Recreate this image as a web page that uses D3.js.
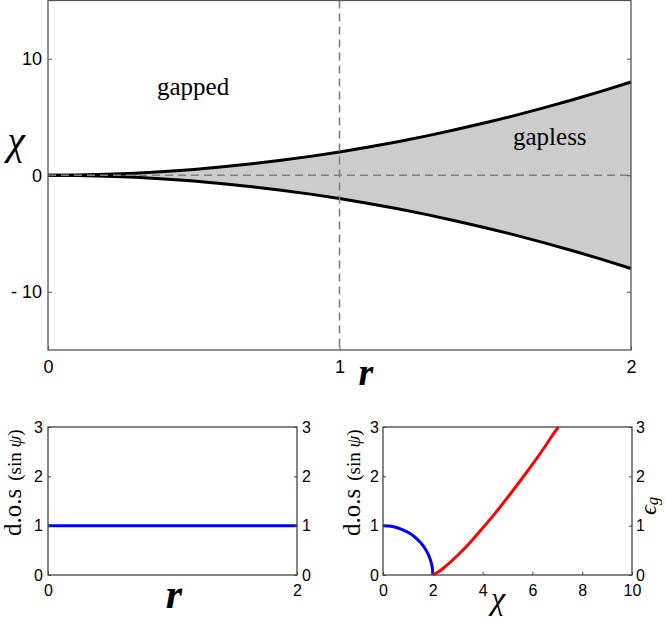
<!DOCTYPE html>
<html>
<head>
<meta charset="utf-8">
<script src="https://cdn.jsdelivr.net/npm/d3@7"></script>
<style>
  html, body { margin: 0; padding: 0; background: #fff; }
  svg { display: block; }
  .tick text { font-family: "Liberation Sans", Arial, sans-serif; fill: #000; }
</style>
</head>
<body>
<svg id="chart" width="665" height="618"></svg>
<script>
// ---------- data ----------
// top panel: phase boundary chi = ±f(r)
const rValues   = [0, 0.1, 0.2, 0.3, 0.4, 0.5, 0.6, 0.7, 0.8, 0.9, 1.0, 1.1, 1.2, 1.3, 1.4, 1.5, 1.6, 1.7, 1.8, 1.9, 2.0];
const chiUpper  = [0, 0.02, 0.08, 0.18, 0.32, 0.5, 0.72, 0.98, 1.28, 1.62, 2.0, 2.42, 2.88, 3.38, 3.92, 4.5, 5.12, 5.78, 6.48, 7.22, 8.0];
const chiLower  = [0, -0.02, -0.08, -0.18, -0.32, -0.5, -0.72, -0.98, -1.28, -1.62, -2.0, -2.42, -2.88, -3.38, -3.92, -4.5, -5.12, -5.78, -6.48, -7.22, -8.0];
const topXTicks = [0, 1, 2];
const topYTicks = [-10, 0, 10];
const topYTickLabels = ["- 10", "0", "10"];
const dashedR = 1;
const dashedChi = 0;
const regionLabels = ["gapped", "gapless"];

// bottom-left panel: d.o.s vs r
const dosR      = [0, 2];
const dosRVals  = [1, 1];
const blXTicks  = [0, 2];
const bYTicks   = [0, 1, 2, 3];

// bottom-right panel: d.o.s (blue) and gap (red) vs chi
const dosChi      = [0, 0.25, 0.5, 0.75, 1.0, 1.25, 1.5, 1.75, 1.9, 1.95, 1.99, 2.0];
const dosChiVals  = [1, 0.992, 0.968, 0.927, 0.866, 0.781, 0.661, 0.484, 0.312, 0.222, 0.1, 0];
const gapChi      = [2, 2.25, 2.5, 3, 3.5, 4, 4.5, 5, 5.5, 6, 6.5, 7, 7.05];
const gapVals     = [0, 0.07, 0.17, 0.4, 0.66, 0.95, 1.25, 1.57, 1.9, 2.24, 2.6, 2.97, 3.0];
const brXTicks    = [0, 2, 4, 6, 8, 10];

// ---------- drawing ----------
const svg = d3.select("#chart");
const frameColor = "#555";
const serif = "'Liberation Serif', 'Times New Roman', serif";

function frame(g, x0, x1, y0, y1, color) {
  g.append("rect").attr("x", x0).attr("y", y0).attr("width", x1 - x0).attr("height", y1 - y0)
    .attr("fill", "none").attr("stroke", color).attr("stroke-width", 1.3);
}
function styleAxis(sel, fs, color) {
  sel.select(".domain").remove();
  sel.selectAll(".tick line").attr("stroke", color).attr("stroke-width", 1);
  sel.selectAll(".tick text").attr("font-size", fs);
}

// ===== top panel =====
const tx = d3.scaleLinear().domain([0, 2]).range([48, 631]);
const ty = d3.scaleLinear().domain([-15, 15]).range([350, 0.5]);
const topG = svg.append("g");

const areaData = rValues.map((r, i) => ({ r, hi: chiUpper[i], lo: chiLower[i] }));
topG.append("path").datum(areaData)
  .attr("d", d3.area().x(d => tx(d.r)).y0(d => ty(d.lo)).y1(d => ty(d.hi)).curve(d3.curveMonotoneX))
  .attr("fill", "#cccccc");

const lineTop = d3.line().x(d => tx(d[0])).y(d => ty(d[1])).curve(d3.curveMonotoneX);
topG.append("path").datum(rValues.map((r, i) => [r, chiUpper[i]]))
  .attr("d", lineTop).attr("fill", "none").attr("stroke", "#000").attr("stroke-width", 3);
topG.append("path").datum(rValues.map((r, i) => [r, chiLower[i]]))
  .attr("d", lineTop).attr("fill", "none").attr("stroke", "#000").attr("stroke-width", 3);

// dashed reference lines
topG.append("line").attr("x1", tx(0)).attr("x2", tx(2)).attr("y1", ty(dashedChi)).attr("y2", ty(dashedChi))
  .attr("stroke", "#808080").attr("stroke-width", 1.6).attr("stroke-dasharray", "8,5");
topG.append("line").attr("x1", tx(dashedR)).attr("x2", tx(dashedR)).attr("y1", ty(15)).attr("y2", ty(-15))
  .attr("stroke", "#808080").attr("stroke-width", 1.6).attr("stroke-dasharray", "8,5");

frame(topG, 48, 631, 0.5, 350, frameColor);

const topYAxis = topG.append("g").attr("transform", "translate(48,0)")
  .call(d3.axisLeft(ty).tickValues(topYTicks).tickSize(-4).tickPadding(6)
    .tickFormat((d, i) => topYTickLabels[i]));
styleAxis(topYAxis, 18, frameColor);
const topYAxisR = topG.append("g").attr("transform", "translate(631,0)")
  .call(d3.axisRight(ty).tickValues(topYTicks).tickSize(-4).tickFormat(""));
styleAxis(topYAxisR, 18, frameColor);
const topXAxis = topG.append("g").attr("transform", "translate(0,350)")
  .call(d3.axisBottom(tx).tickValues(topXTicks).tickSize(-4).tickPadding(10).tickFormat(d3.format("d")));
styleAxis(topXAxis, 18, frameColor);

topG.append("text").attr("x", 157).attr("y", 95).attr("font-family", serif).attr("font-size", 25)
  .text(regionLabels[0]);
topG.append("text").attr("x", 513).attr("y", 145).attr("font-family", serif).attr("font-size", 25)
  .text(regionLabels[1]);

// axis titles
topG.append("text").attr("x", 366).attr("y", 385).attr("text-anchor", "middle")
  .attr("font-family", serif).attr("font-style", "italic").attr("font-weight", "bold").attr("font-size", 38)
  .text("r");
topG.append("text").attr("x", 16).attr("y", 154).attr("text-anchor", "middle")
  .attr("font-family", serif).attr("font-style", "italic").attr("font-size", 40)
  .text("χ");

// ===== bottom panels =====
function dosLabel(g, xBase) {
  const t = g.append("text").attr("transform", `translate(${xBase},536) rotate(-90)`)
    .attr("font-family", serif).attr("fill", "#000");
  t.append("tspan").attr("font-size", 25).text("d.o.s");
  t.append("tspan").attr("font-size", 19).attr("dx", 8).text("(sin ");
  t.append("tspan").attr("font-size", 19).attr("font-style", "italic").text("ψ");
  t.append("tspan").attr("font-size", 19).text(")");
}

// bottom-left
const blx = d3.scaleLinear().domain([0, 2]).range([48, 297]);
const by1 = d3.scaleLinear().domain([0, 3]).range([575, 427]);
const bl = svg.append("g");
bl.append("path").datum(dosR.map((r, i) => [r, dosRVals[i]]))
  .attr("d", d3.line().x(d => blx(d[0])).y(d => by1(d[1])))
  .attr("fill", "none").attr("stroke", "#0000ff").attr("stroke-width", 3);
frame(bl, 48, 297, 427, 575, "#444");
styleAxis(bl.append("g").attr("transform", "translate(48,0)")
  .call(d3.axisLeft(by1).tickValues(bYTicks).tickSize(-3).tickPadding(5).tickFormat(d3.format("d"))), 16, "#444");
styleAxis(bl.append("g").attr("transform", "translate(297,0)")
  .call(d3.axisRight(by1).tickValues(bYTicks).tickSize(-3).tickPadding(5).tickFormat(d3.format("d"))), 16, "#444");
styleAxis(bl.append("g").attr("transform", "translate(0,575)")
  .call(d3.axisBottom(blx).tickValues(blXTicks).tickSize(-3).tickPadding(10).tickFormat(d3.format("d"))), 16, "#444");
dosLabel(bl, 21);
bl.append("text").attr("x", 174).attr("y", 608).attr("text-anchor", "middle")
  .attr("font-family", serif).attr("font-style", "italic").attr("font-weight", "bold").attr("font-size", 42)
  .text("r");

// bottom-right
const brx = d3.scaleLinear().domain([0, 10]).range([383, 632]);
const br = svg.append("g");
br.append("path").datum(dosChi.map((c, i) => [c, dosChiVals[i]]))
  .attr("d", d3.line().x(d => brx(d[0])).y(d => by1(d[1])).curve(d3.curveMonotoneX))
  .attr("fill", "none").attr("stroke", "#0000ff").attr("stroke-width", 3);
br.append("path").datum(gapChi.map((c, i) => [c, gapVals[i]]))
  .attr("d", d3.line().x(d => brx(d[0])).y(d => by1(d[1])).curve(d3.curveMonotoneX))
  .attr("fill", "none").attr("stroke", "#ff0000").attr("stroke-width", 3);
frame(br, 383, 632, 427, 575, "#444");
styleAxis(br.append("g").attr("transform", "translate(383,0)")
  .call(d3.axisLeft(by1).tickValues(bYTicks).tickSize(-3).tickPadding(4).tickFormat(d3.format("d"))), 16, "#444");
styleAxis(br.append("g").attr("transform", "translate(632,0)")
  .call(d3.axisRight(by1).tickValues(bYTicks).tickSize(-3).tickPadding(4).tickFormat(d3.format("d"))), 16, "#444");
styleAxis(br.append("g").attr("transform", "translate(0,575)")
  .call(d3.axisBottom(brx).tickValues(brXTicks).tickSize(-3).tickPadding(10).tickFormat(d3.format("d"))), 16, "#444");
dosLabel(br, 360);
br.append("text").attr("x", 498).attr("y", 609).attr("text-anchor", "middle")
  .attr("font-family", serif).attr("font-style", "italic").attr("font-size", 32)
  .text("χ");
const eg = br.append("text").attr("transform", "translate(656,515) rotate(-90)")
  .attr("font-family", serif).attr("font-style", "italic");
eg.append("tspan").attr("font-size", 24).text("ϵ");
eg.append("tspan").attr("font-size", 17).attr("dy", 2).text("g");
</script>
</body>
</html>
